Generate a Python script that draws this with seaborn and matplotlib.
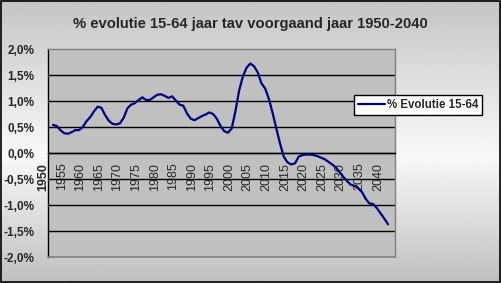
import numpy as np
import matplotlib
matplotlib.use("Agg")
import matplotlib.pyplot as plt
import matplotlib.transforms as mtransforms
from matplotlib.patches import Rectangle
import seaborn as sns

# ---- data ----
years = list(range(1950, 2041))
evolutie = [
    0.54, 0.52, 0.44, 0.38, 0.37, 0.40, 0.44, 0.44, 0.50, 0.61,
    0.69, 0.80, 0.89, 0.87, 0.73, 0.62, 0.56, 0.55, 0.57, 0.68,
    0.86, 0.93, 0.96, 1.02, 1.07, 1.02, 1.02, 1.07, 1.12, 1.13,
    1.10, 1.06, 1.09, 1.01, 0.93, 0.91, 0.76, 0.66, 0.63, 0.67,
    0.71, 0.74, 0.78, 0.75, 0.66, 0.52, 0.42, 0.39, 0.47, 0.80,
    1.20, 1.47, 1.64, 1.72, 1.67, 1.55, 1.34, 1.24, 1.04, 0.77,
    0.47, 0.18, -0.07, -0.18, -0.22, -0.20, -0.07, -0.04, -0.03, -0.03,
    -0.04, -0.06, -0.09, -0.12, -0.17, -0.22, -0.28, -0.37, -0.46, -0.54,
    -0.61, -0.63, -0.68, -0.75, -0.88, -0.97, -0.98, -1.06, -1.16, -1.26,
    -1.37,
]
y_ticks = [-2.0, -1.5, -1.0, -0.5, 0.0, 0.5, 1.0, 1.5, 2.0]
y_ticklabels = ["-2,0%", "-1,5%", "-1,0%", "-0,5%", "0,0%", "0,5%", "1,0%", "1,5%", "2,0%"]
x_ticks = list(range(1950, 2041, 5))
title = "% evolutie 15-64 jaar tav voorgaand jaar 1950-2040"
series_name = "% Evolutie 15-64"

sns.set_style("white")
plt.rcParams["font.family"] = ["Liberation Sans", "DejaVu Sans"]

W, H = 501, 283
fig = plt.figure(figsize=(W / 100, H / 100), dpi=100)

# background gradient
bg = fig.add_axes([0, 0, 1, 1], zorder=-10)
rows = np.linspace(0, 1, 200)
vals = np.interp(rows, [0.0, 0.55, 1.0], [0.77, 0.975, 0.75])
bg.imshow(vals[:, None], aspect="auto", cmap="gray", vmin=0, vmax=1,
          extent=[0, 1, 0, 1], origin="upper")
bg.set_axis_off()

# figure border
fig.patches.append(Rectangle((0.001, 0.002), 0.997, 0.995, transform=fig.transFigure,
                             fill=False, edgecolor="black", lw=1.2, zorder=10))

L, R, T, B = 48, 395, 49, 257
ax = fig.add_axes([L / W, 1 - B / H, (R - L) / W, (B - T) / H])
ax.set_facecolor("#c0c0c0")

for yv in y_ticks[1:-1]:
    ax.axhline(yv, color="black", lw=1.0, zorder=1)
ax.axhline(y_ticks[0], color="#808080", lw=1.2, zorder=3, clip_on=False)

sns.lineplot(x=years, y=evolutie, ax=ax, color="#000080", lw=1.6,
             label=series_name, legend=False, zorder=4)

ax.set_xlim(1948.66, 2041.88)
ax.set_ylim(-2.0, 2.0)
ax.set_xlabel("")
ax.set_ylabel("")

ax.spines["top"].set_color("#808080")
ax.spines["right"].set_color("#808080")
ax.spines["left"].set_color("black")
ax.spines["bottom"].set_position(("data", 0))
ax.spines["bottom"].set_color("black")
for s in ax.spines.values():
    s.set_linewidth(1.0)

ax.set_yticks(y_ticks)
ax.set_yticklabels(y_ticklabels, fontsize=8.5, fontweight="bold")
ax.tick_params(axis="y", direction="out", length=5, width=1, color="black", pad=5)

ax.set_xticks(x_ticks)
ax.set_xticklabels([str(v) for v in x_ticks], rotation=90, fontsize=9)
ax.set_xticks(years, minor=True)
ax.tick_params(axis="x", which="both", direction="out", length=4, width=1,
               color="black", pad=3)
offset = mtransforms.ScaledTranslation(-10 / 100, 0, fig.dpi_scale_trans)
for i, lab in enumerate(ax.get_xticklabels()):
    lab.set_transform(lab.get_transform() + offset)
    if i == 0:
        lab.set_fontweight("bold")

fig.text(250 / W, 1 - 24 / H, title, ha="center", va="center",
         fontsize=10.6, fontweight="bold")

handles, labels = ax.get_legend_handles_labels()
leg = fig.legend(handles, labels, loc="center left",
                 bbox_to_anchor=(354 / W, 1 - 105 / H),
                 frameon=True, fancybox=False, shadow=False,
                 prop={"size": 8.3, "weight": "bold"},
                 handlelength=2.3, handletextpad=0.2, borderpad=0.35,
                 borderaxespad=0)
leg.get_frame().set_edgecolor("black")
leg.get_frame().set_facecolor("white")
leg.get_frame().set_linewidth(1.0)
leg.get_frame().set_alpha(1)

fig.savefig("out.png", dpi=100)
